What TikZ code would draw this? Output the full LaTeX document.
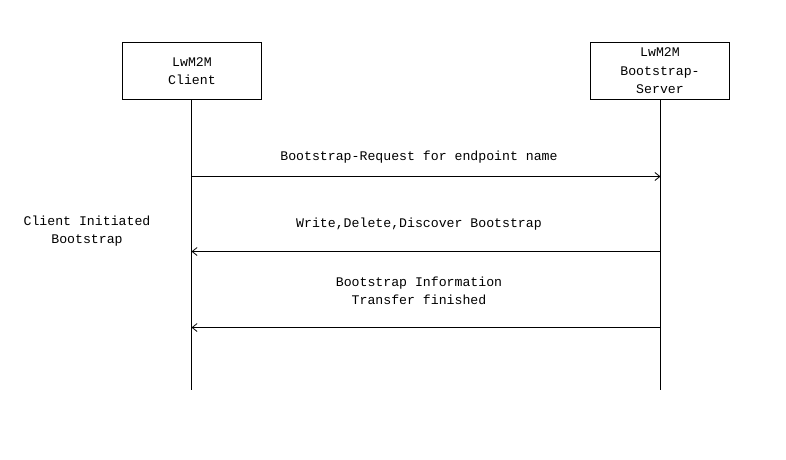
\documentclass[tikz,border=0pt]{standalone}
\usepackage{fontspec}
\setmonofont{Liberation Mono}
\usetikzlibrary{arrows.meta}
\begin{document}
\begin{tikzpicture}[x=1pt,y=-1pt,
  every node/.style={font=\ttfamily\fontsize{13.2}{18.5}\selectfont, align=center},
  actor/.style={draw, line width=1pt, minimum width=139pt, minimum height=57pt, inner sep=0pt},
  life/.style={line width=1pt},
  msg/.style={line width=1pt, -{Straight Barb[length=5pt,width=8pt,line width=0.8pt]}},
  lbl/.style={inner sep=0pt}]
\useasboundingbox (0,0) rectangle (786,459);
\node[actor] (client) at (192,71) {LwM2M\\Client};
\node[actor] (server) at (660,71) {LwM2M\\Bootstrap-\\Server};
\coordinate (ctop) at (191.5,99.5);
\coordinate (stop) at (660.5,99.5);
\coordinate (cend) at (191.5,390);
\coordinate (send) at (660.5,390);
\draw[life] (ctop) -- (cend);
\draw[life] (stop) -- (send);
\coordinate (c1) at (191.5,176.5);
\coordinate (s1) at (660.5,176.5);
\coordinate (c2) at (191.5,251.5);
\coordinate (s2) at (660.5,251.5);
\coordinate (c3) at (191.5,327.5);
\coordinate (s3) at (660.5,327.5);
\draw[msg] (c1) -- (s1);
\draw[msg] (s2) -- (c2);
\draw[msg] (s3) -- (c3);
\node[lbl] (m1) at (419,157) {Bootstrap-Request for endpoint name};
\node[lbl] (m2) at (419,224) {Write,Delete,Discover Bootstrap};
\node[lbl] (m3) at (419,291) {Bootstrap Information\\Transfer finished};
\node[lbl] (side) at (87,231) {Client Initiated\\Bootstrap};
\end{tikzpicture}
\end{document}
